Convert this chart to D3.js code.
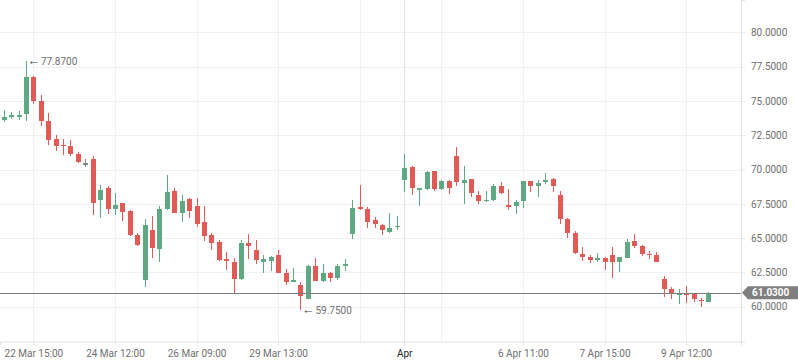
<!DOCTYPE html>
<html>
<head>
<meta charset="utf-8">
<script src="https://cdn.jsdelivr.net/npm/d3@7"></script>
<style>
  body { margin: 0; background: #fff; }
  text { font-family: Roboto, "Noto Sans", sans-serif; }
</style>
</head>
<body>
<div id="chart"></div>
<script>
// candle data, index based (one candle per slot)
var opens  = [73.64,73.93,73.93,74.05,76.74,75.00,73.54,72.23,71.79,71.72,71.14,70.46,70.75,67.81,68.66,67.15,67.57,67.01,65.21,61.96,
              65.62,64.24,67.15,68.46,66.86,67.86,67.35,66.18,65.24,64.73,63.49,63.27,62.03,64.66,64.17,63.27,63.37,63.78,62.47,61.89,
              61.60,60.58,62.98,61.86,62.47,62.13,63.00,65.33,67.28,67.13,66.33,65.97,65.48,65.84,69.24,70.19,68.54,68.61,69.90,68.61,
              69.17,70.99,69.05,69.32,68.15,67.69,67.79,68.81,67.42,67.37,67.74,69.17,68.83,69.10,69.32,68.15,66.40,65.38,63.85,63.63,
              63.44,63.58,63.78,63.29,63.58,64.80,64.44,63.87,63.78,62.03,61.30,60.92,60.95,60.94,60.50,60.38];
var highs  = [74.34,74.20,74.27,77.87,76.82,75.43,74.12,72.52,72.23,72.16,71.28,70.75,71.01,68.88,68.80,68.30,67.57,67.08,65.38,66.43,
              66.62,67.33,69.63,68.66,68.15,67.93,67.93,67.35,65.38,64.87,64.00,63.58,64.87,65.32,64.90,63.78,63.71,64.14,62.76,62.84,
              61.82,63.05,63.56,63.13,62.54,63.13,63.49,67.79,68.88,67.28,66.55,66.04,66.84,66.62,71.14,70.26,68.66,69.90,69.90,69.24,
              69.24,71.65,70.26,69.32,68.44,68.44,68.97,69.10,68.59,67.79,69.17,69.17,69.24,69.75,69.39,68.44,66.48,65.53,64.36,63.78,
              63.93,63.66,64.36,63.63,64.95,65.31,64.51,64.07,64.00,62.25,61.45,61.30,61.52,60.94,60.65,61.09];
var lows   = [73.49,73.66,73.61,73.56,74.78,73.20,71.79,71.38,71.09,71.01,70.48,70.17,66.69,66.50,66.77,66.69,66.28,65.16,64.44,61.45,
              63.58,63.29,67.06,66.86,66.21,66.48,65.84,64.80,64.14,63.34,62.69,61.00,61.96,63.50,63.12,62.47,62.62,62.47,61.60,61.81,
              59.75,60.53,61.91,61.81,61.81,61.98,62.62,64.97,67.08,65.75,65.77,65.26,65.41,65.62,68.37,68.17,67.37,68.51,68.44,68.51,
              68.25,68.83,67.49,68.03,67.52,67.66,67.71,68.22,67.08,66.79,67.23,68.39,68.03,68.97,68.39,66.06,65.04,63.87,63.37,63.22,
              63.29,62.71,62.13,62.56,63.58,64.31,63.73,63.51,63.29,60.74,60.58,60.23,60.31,60.38,60.01,60.38];
var closes = [73.83,73.97,73.97,76.74,75.02,73.56,72.18,71.74,71.70,71.16,70.58,70.46,67.59,68.51,67.15,67.42,66.93,65.24,64.51,65.97,
              64.31,67.13,68.39,66.86,67.71,67.01,66.04,65.16,64.66,63.42,63.37,62.03,64.65,64.45,63.42,63.51,63.66,62.47,61.81,61.93,
              60.82,62.98,61.91,62.47,62.13,62.98,63.13,67.20,67.15,66.21,66.06,65.62,65.75,65.89,70.12,68.68,68.66,69.83,68.59,69.17,
              68.68,69.12,69.24,68.32,67.74,67.79,68.81,68.32,67.30,67.64,69.17,68.83,69.02,69.24,68.83,66.40,65.40,63.94,63.66,63.44,
              63.56,63.29,63.29,63.63,64.73,64.46,63.87,63.80,63.29,61.33,61.01,60.94,60.93,60.60,60.45,61.03];

// time axis ticks (candle index -> label, "" = grid line only)
var tickIdx    = [4, 15, 26, 37, 48, 54, 59, 70, 81, 92];
var tickLabels = ["22 Mar 15:00", "24 Mar 12:00", "26 Mar 09:00", "29 Mar 13:00", "", "Apr", "", "6 Apr 11:00", "7 Apr 15:00", "9 Apr 12:00"];

var priceTicks = [60, 62.5, 65, 67.5, 70, 72.5, 75, 77.5, 80];
var lastPrice = 61.03;
var highMark = { idx: 3, value: 77.87 };
var lowMark = { idx: 40, value: 59.75 };

var svgWidth = 798;
var svgHeight = 363;
var plotWidth = 741;
var plotHeight = 341.5;

var upColor = "#5ea883";
var downColor = "#e25a55";
var flatColor = "#888888";

var candles = opens.map(function(o, i) {
  return { i: i, open: o, high: highs[i], low: lows[i], close: closes[i] };
});

var svg = d3.select("#chart")
  .append("svg")
  .attr("width", svgWidth)
  .attr("height", svgHeight);

var xScale = d3.scaleLinear().domain([-0.5, 99.4]).range([0, plotWidth]);
var yScale = d3.scaleLinear().domain([57.47, 82.35]).range([plotHeight, 0]);

// grid
var grid = svg.append("g").attr("shape-rendering", "crispEdges");
grid.selectAll(".hgrid")
  .data(priceTicks)
  .enter()
  .append("line")
  .attr("x1", 0)
  .attr("x2", plotWidth)
  .attr("y1", d => Math.round(yScale(d)) + 0.5)
  .attr("y2", d => Math.round(yScale(d)) + 0.5)
  .attr("stroke", "#eff1f4");

grid.selectAll(".vgrid")
  .data(tickIdx)
  .enter()
  .append("line")
  .attr("x1", d => Math.round(xScale(d)) + 0.5)
  .attr("x2", d => Math.round(xScale(d)) + 0.5)
  .attr("y1", 0)
  .attr("y2", plotHeight)
  .attr("stroke", (d, k) => tickLabels[k] === "Apr" ? "#e2e4e8" : "#eff1f4");

// x axis
var bottomAxis = d3.axisBottom(xScale)
  .tickValues(tickIdx.filter((d, k) => tickLabels[k] !== ""))
  .tickFormat(d => tickLabels[tickIdx.indexOf(d)])
  .tickSizeOuter(0)
  .tickSize(4)
  .tickPadding(4);

var xAxis = svg.append("g")
  .attr("transform", `translate(0, ${plotHeight})`)
  .call(bottomAxis);
xAxis.select(".domain").attr("stroke", "#dfe2e6");
xAxis.selectAll(".tick line").attr("stroke", "#dfe2e6");
xAxis.selectAll(".tick text")
  .attr("font-family", "Roboto")
  .attr("font-size", 10)
  .attr("fill", d => tickLabels[tickIdx.indexOf(d)] === "Apr" ? "#222" : "#6f6f6f");

// y axis
var rightAxis = d3.axisRight(yScale)
  .tickValues(priceTicks)
  .tickFormat(d3.format(".4f"))
  .tickSizeOuter(0)
  .tickSize(4)
  .tickPadding(6);

var yAxis = svg.append("g")
  .attr("transform", `translate(${plotWidth}, 0)`)
  .call(rightAxis);
yAxis.select(".domain").attr("stroke", "#dfe2e6");
yAxis.selectAll(".tick line").attr("stroke", "#dfe2e6");
yAxis.selectAll(".tick text")
  .attr("font-family", "Roboto")
  .attr("font-size", 10)
  .attr("fill", "#6f6f6f");

// candles
function candleColor(d) {
  if (d.close > d.open) return upColor;
  if (d.close < d.open) return downColor;
  return flatColor;
}
var bodyW = 5;
var candleG = svg.append("g").attr("shape-rendering", "crispEdges");

candleG.selectAll(".wick")
  .data(candles)
  .enter()
  .append("rect")
  .attr("x", d => Math.round(xScale(d.i)))
  .attr("width", 1)
  .attr("y", d => yScale(d.high))
  .attr("height", d => Math.max(1, yScale(d.low) - yScale(d.high)))
  .attr("fill", candleColor);

candleG.selectAll(".body")
  .data(candles)
  .enter()
  .append("rect")
  .attr("x", d => Math.round(xScale(d.i)) - 2)
  .attr("width", bodyW)
  .attr("y", d => yScale(Math.max(d.open, d.close)))
  .attr("height", d => Math.max(1.5, Math.abs(yScale(d.open) - yScale(d.close))))
  .attr("fill", candleColor);

// last price line
svg.append("line")
  .attr("x1", 0)
  .attr("x2", plotWidth)
  .attr("y1", Math.round(yScale(lastPrice)) + 0.5)
  .attr("y2", Math.round(yScale(lastPrice)) + 0.5)
  .attr("stroke", "#7d7d7d")
  .attr("stroke-width", 1);

var ly = yScale(lastPrice);
svg.append("path")
  .attr("d", `M${plotWidth + 1},${ly} L${plotWidth + 7},${ly - 6.5} L${svgWidth},${ly - 6.5} L${svgWidth},${ly + 6.5} L${plotWidth + 7},${ly + 6.5} Z`)
  .attr("fill", "#7f7f7f");
svg.append("text")
  .attr("x", plotWidth + 11)
  .attr("y", ly)
  .attr("dy", "0.35em")
  .attr("font-size", 10)
  .attr("font-weight", "bold")
  .attr("fill", "#fff")
  .text(d3.format(".4f")(lastPrice));

// high / low markers
[highMark, lowMark].forEach(function(m) {
  svg.append("text")
    .attr("x", xScale(m.idx) + 1.5)
    .attr("y", yScale(m.value))
    .attr("dy", "0.32em")
    .attr("font-family", "DejaVu Sans")
    .attr("font-size", 12.5)
    .attr("fill", "#444")
    .text("\u2190");
  svg.append("text")
    .attr("x", xScale(m.idx) + 15)
    .attr("y", yScale(m.value))
    .attr("dy", "0.35em")
    .attr("font-size", 10)
    .attr("fill", "#707070")
    .text(d3.format(".4f")(m.value));
});
</script>
</body>
</html>
